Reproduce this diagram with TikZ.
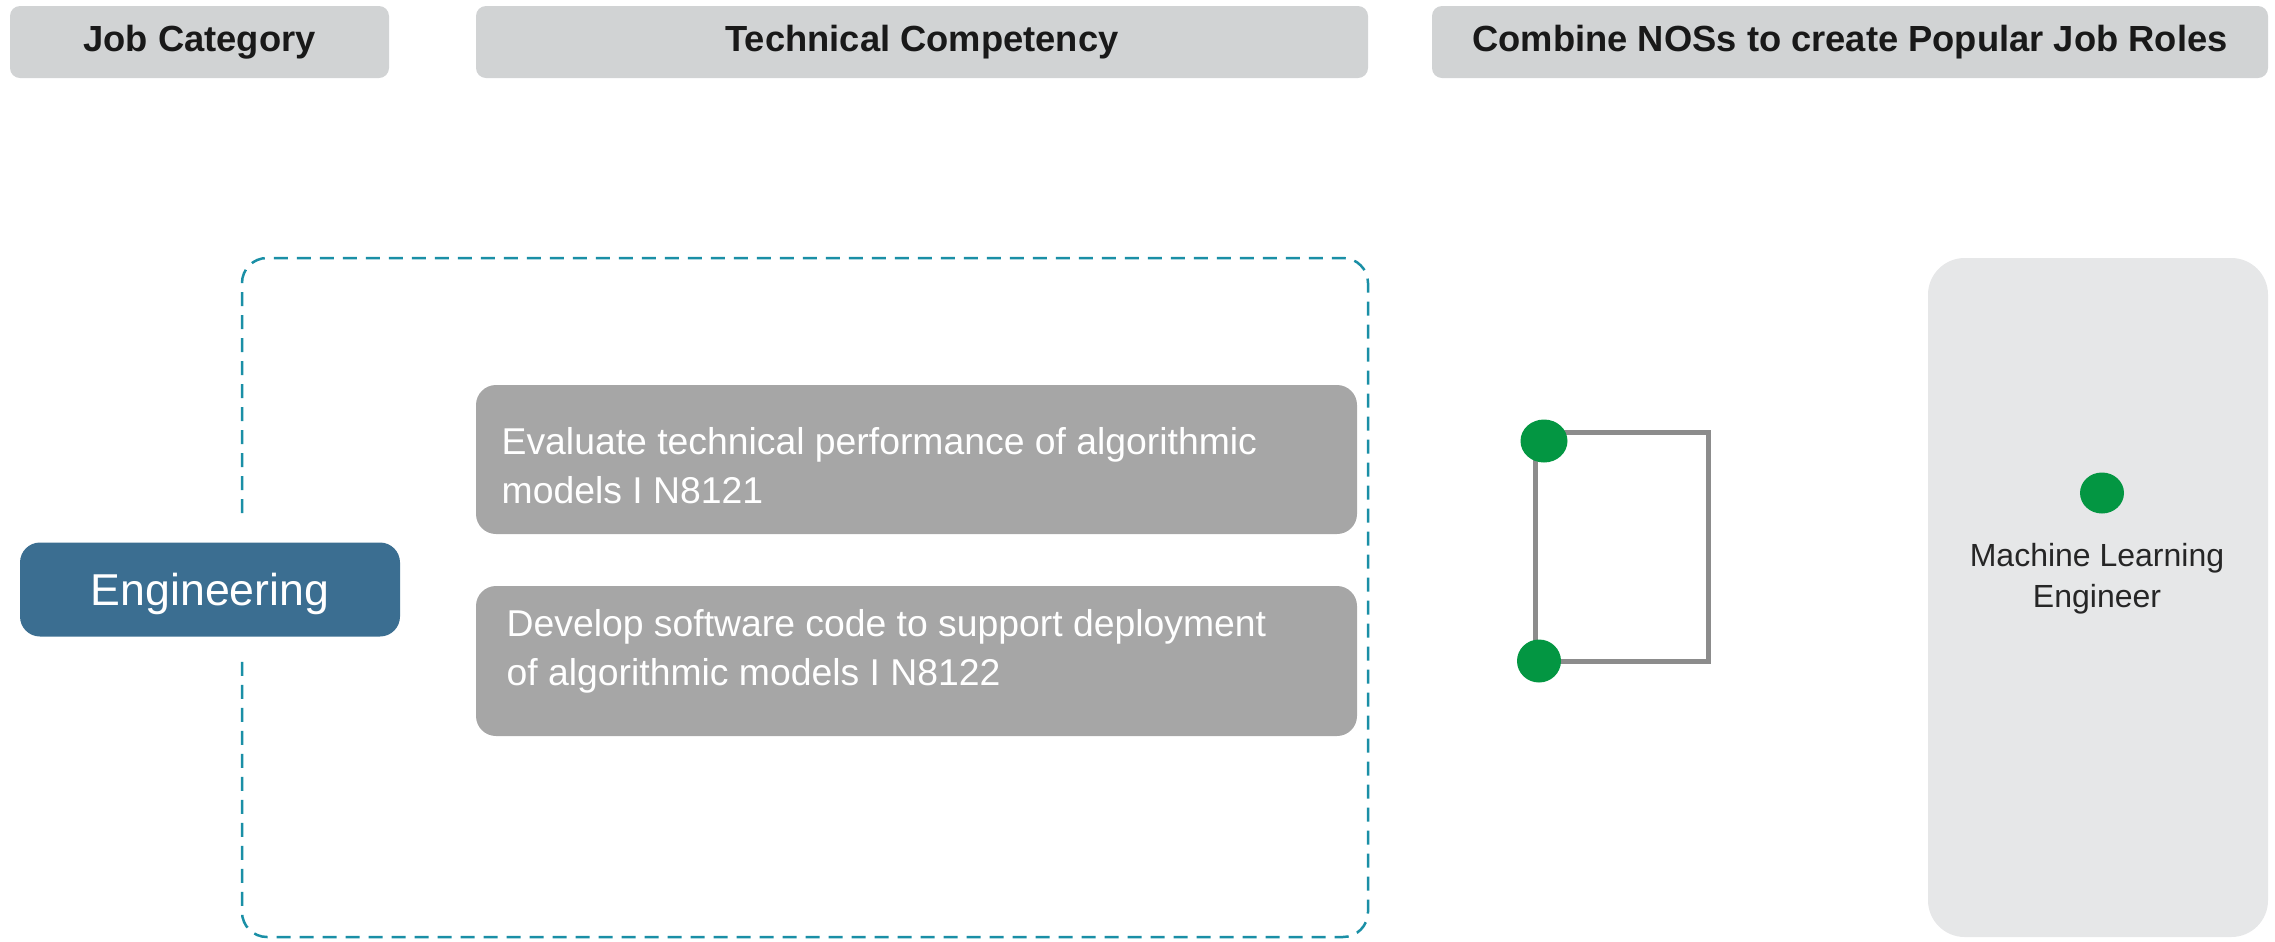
\documentclass[tikz,border=0pt]{standalone}
\usepackage{fontspec}
\usetikzlibrary{shapes.geometric}
\setmainfont{Liberation Sans}
\definecolor{headfill}{HTML}{D1D3D4}
\definecolor{ncsfill}{HTML}{A6A6A6}
\definecolor{catfill}{HTML}{3B6E91}
\definecolor{rolefill}{HTML}{E6E7E8}
\definecolor{frameblue}{HTML}{1A8FA6}
\definecolor{linkgray}{HTML}{8C8C8C}
\definecolor{dotgreen}{HTML}{039642}
\definecolor{roletext}{HTML}{262626}
\tikzset{
  header/.style={fill=headfill, rounded corners=3pt, inner sep=0pt,
    font=\fontsize{10.9}{13}\selectfont\bfseries, text=black!90},
  ncsbox/.style={fill=ncsfill, rounded corners=6pt, inner sep=0pt},
  ncstext/.style={anchor=west, align=left, inner sep=0pt, text=white,
    font=\fontsize{11.2}{14.7}\selectfont},
  catbox/.style={fill=catfill, rounded corners=6pt, inner sep=0pt, text=white,
    text depth=0pt, font=\fontsize{13.4}{16}\selectfont},
  rolebox/.style={fill=rolefill, rounded corners=11pt, inner sep=0pt},
  greendot/.style={ellipse, fill=dotgreen, inner sep=0pt},
  frame/.style={draw=frameblue, line width=0.75pt, dash pattern=on 4.2pt off 2.7pt, rounded corners=7.5pt},
  link/.style={draw=linkgray, line width=1.5pt},
}
\begin{document}
\begin{tikzpicture}[x=0.3pt, y=-0.3pt]
\useasboundingbox (0,0) rectangle (2275,941);

% column headers
\node[header, minimum width=379*0.3pt, minimum height=72*0.3pt] (hcat) at (199.5,42) {Job Category};
\node[header, minimum width=892*0.3pt, minimum height=72*0.3pt] (htech) at (922,42) {Technical Competency};
\node[header, minimum width=836*0.3pt, minimum height=72*0.3pt] (hrole) at (1850,42) {Combine NOSs to create Popular Job Roles};

% dashed frame around the competencies, open where the category box sits
\coordinate (fgap1) at (242,513);
\coordinate (fgap2) at (242,659);
\draw[frame] (fgap1) -- (242,258) -- (1368,258) -- (1368,937) -- (242,937) -- (fgap2);

% job category
\node[catbox, minimum width=380*0.3pt, minimum height=94*0.3pt] (eng) at (210,589.5) {Engineering};

% competency boxes
\node[ncsbox, minimum width=881*0.3pt, minimum height=149*0.3pt] (n1) at (916.5,459.5) {};
\node[ncstext] (n1t) at (501,466) {Evaluate technical performance of algorithmic\\models I N8121};
\node[ncsbox, minimum width=881*0.3pt, minimum height=150*0.3pt] (n2) at (916.5,661) {};
\node[ncstext] (n2t) at (506,651) {Develop software code to support deployment\\of algorithmic models I N8122};

% bracket joining the two competencies
\coordinate (bTL) at (1535,432);
\coordinate (bTR) at (1708,432);
\coordinate (bBR) at (1708,661);
\coordinate (bBL) at (1535,661);
\draw[link] (bBL) -- (bTL) -- (bTR) -- (bBR) -- cycle;
\node[greendot, minimum width=47*0.3pt, minimum height=43*0.3pt] (d1) at (1544,441) {};
\node[greendot, minimum width=44*0.3pt, minimum height=43*0.3pt] (d2) at (1539,661) {};

% resulting job role
\node[rolebox, minimum width=340*0.3pt, minimum height=679*0.3pt] (role) at (2098,597.5) {};
\node[greendot, minimum width=44*0.3pt, minimum height=41*0.3pt] (d3) at (2102,493) {};
\node[align=center, inner sep=0pt, text=roletext, font=\fontsize{9.6}{12.2}\selectfont] (rolet) at (2097,579) {Machine Learning\\Engineer};
\end{tikzpicture}
\end{document}
